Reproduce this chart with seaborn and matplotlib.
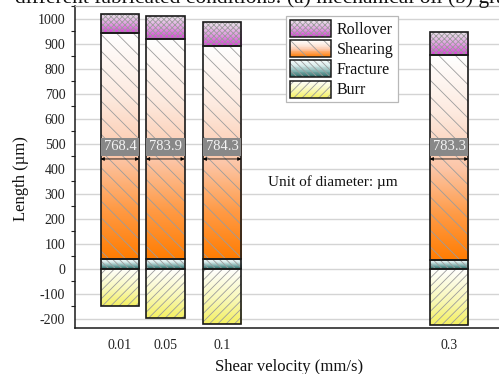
import numpy as np
import pandas as pd
import matplotlib
matplotlib.use("Agg")
import matplotlib.pyplot as plt
import seaborn as sns
from matplotlib.colors import LinearSegmentedColormap
from matplotlib.patches import Rectangle
from matplotlib.legend_handler import HandlerBase
from matplotlib.ticker import MultipleLocator

# Shear velocity (mm/s) and the length of each zone on the cut edge (um)
velocity = [0.01, 0.05, 0.1, 0.3]
velocity_labels = ["0.01", "0.05", "0.1", "0.3"]
burr = [-148, -195, -219, -223]
fracture = [39, 39, 39, 37]
shearing = [903, 881, 854, 819]
rollover = [79, 93, 96, 92]
diameter = [768.4, 783.9, 784.3, 783.3]

df = pd.DataFrame({
    "velocity": velocity,
    "Burr": burr,
    "Fracture": fracture,
    "Shearing": shearing,
    "Rollover": rollover,
})
frac_top = np.array(fracture)
shear_top = frac_top + np.array(shearing)

# zone name -> (bottom, colour stops from the low end to the high end, hatch)
zones = {
    "Burr": (np.zeros(4),
             [(0, "#f4f060"), (0.45, "#f9f8b8"), (1, "#ffffff")], "////"),
    "Fracture": (np.zeros(4),
                 [(0, "#1f5f5c"), (0.35, "#7fb0ae"), (0.7, "#d9ecec"),
                  (1, "#f4fafa")], "\\\\\\\\\\"),
    "Shearing": (frac_top,
                 [(0, "#ff7d02"), (0.22, "#ff9a45"), (0.45, "#fcc6a8"),
                  (0.72, "#fdeadf"), (1, "#ffffff")], "\\\\"),
    "Rollover": (shear_top,
                 [(0, "#d43ed4"), (0.45, "#e39be3"), (1, "#ebebeb")],
                 "xxxxxx"),
}
legend_order = ["Rollover", "Shearing", "Fracture", "Burr"]
hatch_grey = "#9c9c9c"

sns.set_theme(style="whitegrid")
plt.rcParams["font.family"] = ["Liberation Serif", "DejaVu Serif"]
plt.rcParams["hatch.linewidth"] = 0.6
plt.rcParams["hatch.color"] = hatch_grey
plt.rcParams["axes.unicode_minus"] = False

fig = plt.figure(figsize=(4.99, 3.74), dpi=100)
ax = fig.add_axes([75 / 499, (374 - 328) / 374, 1 - 75 / 499, (328 - 5.7) / 374])

cmaps = {k: LinearSegmentedColormap.from_list(k, v[1]) for k, v in zones.items()}

bar_w = 0.85
for name, (bottom, stops, hatch) in zones.items():
    n0 = len(ax.patches)
    sns.barplot(data=df, x="velocity", y=name, native_scale=True, width=bar_w,
                bottom=bottom, color="white", facecolor="none",
                edgecolor=hatch_grey, hatch=hatch, linewidth=0,
                errorbar=None, zorder=3, ax=ax)
    for p in ax.patches[n0:]:
        x0, x1 = p.get_x(), p.get_x() + p.get_width()
        y0, y1 = sorted([p.get_y(), p.get_y() + p.get_height()])
        grad = np.linspace(0, 1, 256).reshape(-1, 1)
        im = ax.imshow(grad, extent=[x0, x1, y0, y1], origin="lower",
                       aspect="auto", cmap=cmaps[name],
                       interpolation="bilinear", zorder=2)
        im.set_clip_path(p)
    # black outline of each zone
    sns.barplot(data=df, x="velocity", y=name, native_scale=True, width=bar_w,
                bottom=bottom, color="white", facecolor="none",
                edgecolor="#1a1a1a", linewidth=1.2, errorbar=None, zorder=4,
                ax=ax)

# diameter markers: double arrow across the bar with a grey value box
half = bar_w * 0.04 / 2
for v, d in zip(velocity, diameter):
    ax.annotate("", xy=(v - half, 440), xytext=(v + half, 440),
                arrowprops=dict(arrowstyle="<|-|>", lw=0.6, color="black",
                                mutation_scale=5, shrinkA=0, shrinkB=0),
                zorder=6)
    ax.text(v, 488, f"{d:.1f}", ha="center", va="center", color="#f4f4f4",
            fontsize=10.5, zorder=6,
            bbox=dict(boxstyle="square,pad=0.2", fc="#888888", ec="none"))

ax.text(0.1404, 348, "Unit of diameter: \u00b5m", ha="left", va="center",
        fontsize=11, color="#111111")

ax.set_xlim(-0.0296, 0.344)
ax.set_ylim(-236, 1053)
ax.set_xticks(velocity)
ax.set_xticklabels(velocity_labels)
ax.yaxis.set_minor_locator(MultipleLocator(50))
ax.set_yticks(np.arange(-200, 1001, 100))
ax.grid(axis="x", visible=False)
ax.grid(axis="y", which="major", color="#d4d4d4", linewidth=1.0)
ax.set_axisbelow(True)
ax.tick_params(axis="y", which="major", direction="out", length=5,
               width=0.9, color="#222222", labelsize=10, labelcolor="#222222",
               pad=2)
ax.tick_params(axis="y", which="minor", direction="out", length=3,
               width=0.8, color="#222222", left=True)
ax.tick_params(axis="x", which="major", direction="in", length=4,
               width=0.9, color="#222222", labelsize=10, labelcolor="#222222",
               pad=8)
ax.set_xlabel("Shear velocity (mm/s)", fontsize=12, color="#111111")
ax.set_ylabel("Length (\u00b5m)", fontsize=12, color="#111111")
ax.yaxis.set_label_coords(-0.108, 0.465)
ax.xaxis.set_label_coords(0.505, -0.095)
for side in ("left", "bottom"):
    ax.spines[side].set_color("#1a1a1a")
    ax.spines[side].set_linewidth(1.1)
ax.spines["top"].set_color("#b0b0b0")
ax.spines["top"].set_linewidth(0.9)
ax.spines["right"].set_visible(False)


class GradientHandler(HandlerBase):
    def create_artists(self, legend, orig_handle, xdescent, ydescent, width,
                       height, fontsize, trans):
        cmap, hatch = orig_handle
        n = 24
        arts = []
        for i in range(n):
            arts.append(Rectangle((-xdescent, -ydescent + height * i / n),
                                  width, height / n + 0.3,
                                  facecolor=cmap((i + 0.5) / n),
                                  edgecolor="none", transform=trans))
        arts.append(Rectangle((-xdescent, -ydescent), width, height,
                              facecolor="none", edgecolor=hatch_grey,
                              hatch=hatch, linewidth=0, transform=trans))
        arts.append(Rectangle((-xdescent, -ydescent), width, height,
                              facecolor="none", edgecolor="#1a1a1a",
                              linewidth=1.1, transform=trans))
        return arts


handles = [(cmaps[k], zones[k][2]) for k in legend_order]
leg = ax.legend(handles, legend_order,
                handler_map={tuple: GradientHandler()},
                loc="upper left", bbox_to_anchor=(0.497, 0.968),
                fontsize=11.5, handlelength=2.6, handleheight=1.25,
                labelspacing=0.15, handletextpad=0.35, borderpad=0.25,
                borderaxespad=0, fancybox=False, framealpha=1,
                edgecolor="#b8b8b8")
leg.get_frame().set_linewidth(0.9)
for t in leg.get_texts():
    t.set_color("#111111")

fig.text(15 / 499, 1 - 3.0 / 374,
         "different fabricated conditions: (a) mechanical oil (b) graphite",
         fontsize=15.5, va="baseline", ha="left", color="#111111")

fig.savefig("out.png", dpi=100)
